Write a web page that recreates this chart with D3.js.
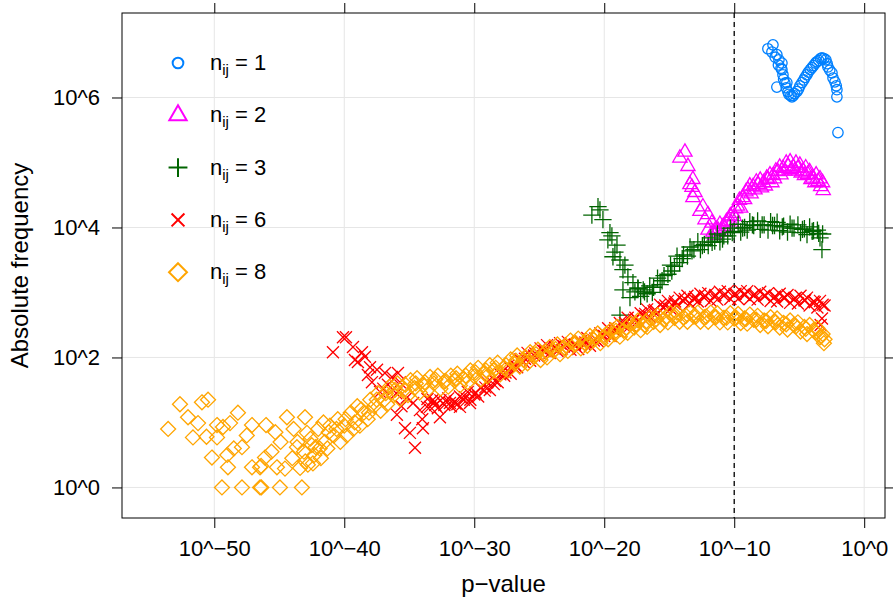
<!DOCTYPE html>
<html>
<head>
<meta charset="utf-8">
<script src="https://cdn.jsdelivr.net/npm/d3@7"></script>
<style>
  body { margin: 0; background: #fff; }
  svg text { font-family: "Liberation Sans", Arial, Helvetica, sans-serif; fill: #000; }
</style>
</head>
<body>
<svg id="chart" width="893" height="607"></svg>
<script>
// values are [log10(p-value), log10(absolute frequency)]
var xTicks = [-50, -40, -30, -20, -10, 0];
var yTicks = [0, 2, 4, 6];
var cutoff = -10;
var groupLabels = ["1", "2", "3", "6", "8"];
var groupColors = ["#0080ff", "#ff00ff", "#006400", "#ff0000", "#ffa500"];

var n1 = [
  [-7.41,6.75],[-7.02,6.81],[-7.10,6.70],[-6.85,6.62],[-6.72,6.66],[-6.56,6.58],[-6.60,6.50],[-6.33,6.53],
  [-6.40,6.45],[-6.33,6.43],[-6.25,6.35],[-6.20,6.28],[-6.72,6.16],[-6.10,6.22],[-5.95,6.23],[-6.00,6.15],
  [-5.87,6.09],[-5.80,6.05],[-5.65,6.03],[-5.56,6.01],[-5.45,6.03],[-5.35,6.06],[-5.18,6.09],[-5.05,6.13],
  [-4.95,6.18],[-4.79,6.23],[-4.65,6.27],[-4.55,6.31],[-4.41,6.35],[-4.30,6.39],[-4.15,6.43],[-4.02,6.46],
  [-3.90,6.49],[-3.75,6.53],[-3.64,6.55],[-3.50,6.57],[-3.35,6.60],[-3.25,6.61],[-3.10,6.60],[-2.95,6.58],
  [-2.85,6.52],[-2.79,6.47],[-2.65,6.42],[-2.48,6.38],[-2.40,6.30],[-2.25,6.24],[-2.15,6.18],[-2.10,6.12],
  [-2.10,6.01],[-2.02,5.46]
];

var n2 = [
  [-13.79,5.16],[-14.18,5.07],[-13.56,4.94],[-13.18,4.74],[-13.41,4.66],[-13.25,4.62],[-13.02,4.54],[-13.18,4.46],
  [-12.41,4.32],[-12.64,4.25],[-12.02,4.20],[-12.25,4.12],[-11.72,4.07],[-12.02,3.96],[-11.64,3.93],
  [-11.5,3.88],[-11.4,3.98],[-11.1,4.05],[-11.0,3.94],[-10.7,3.99],[-10.6,4.09],[-10.3,4.18],[-10.2,4.07],
  [-10.0,4.17],[-9.9,4.29],[-9.6,4.42],[-9.5,4.30],[-9.2,4.43],[-9.1,4.55],[-8.8,4.64],[-8.7,4.52],
  [-8.4,4.58],[-8.3,4.70],[-8.0,4.73],[-7.9,4.61],[-7.6,4.64],[-7.5,4.76],[-7.25,4.81],[-7.1,4.69],
  [-6.9,4.75],[-6.8,4.87],[-6.5,4.93],[-6.4,4.81],[-6.1,4.87],[-6.0,4.99],[-5.7,5.01],[-5.6,4.89],
  [-5.35,4.87],[-5.25,4.99],[-4.95,4.96],[-4.85,4.84],[-4.6,4.80],[-4.5,4.92],[-4.2,4.86],[-4.1,4.74],
  [-3.8,4.69],[-3.7,4.81],[-3.4,4.75],[-3.35,4.63],[-3.2,4.69],[-3.15,4.57]
];
var n2Mid = [
  [-11.25,3.96],[-10.85,4.02],[-10.45,4.10],[-10.1,4.22],[-9.75,4.33],[-9.35,4.46],[-8.95,4.58],[-8.55,4.63],
  [-8.15,4.66],[-7.75,4.69],[-7.4,4.74],[-7.0,4.80],[-6.65,4.86],[-6.25,4.91],[-5.85,4.94],[-5.45,4.93],
  [-5.1,4.91],[-4.7,4.87],[-4.35,4.82],[-3.95,4.76],[-3.55,4.71]
];

var n3 = [
  [-20.48,4.32],[-20.95,4.19],[-20.10,4.12],[-20.33,4.27],[-19.56,3.92],[-19.72,3.81],[-19.41,3.87],[-19.02,3.73],
  [-19.33,3.55],[-18.79,3.50],[-19.18,3.62],[-18.56,3.35],[-18.18,3.24],[-18.41,3.42],[-17.79,3.15],[-18.56,3.04],
  [-17.41,3.07],[-18.02,2.92],[-18.79,2.65],[-17.64,3.01],
  [-17.4,3.06],[-17.2,2.94],[-16.9,3.01],[-16.7,2.98],[-16.5,3.10],[-16.2,3.08],[-15.9,3.22],[-15.7,3.12],
  [-15.4,3.26],[-15.1,3.28],[-14.9,3.42],[-14.6,3.40],[-14.4,3.56],[-14.2,3.46],[-13.9,3.58],[-13.6,3.56],
  [-13.4,3.70],[-13.1,3.66],[-12.8,3.78],[-12.6,3.66],[-12.3,3.74],[-12.0,3.72],[-11.8,3.84],[-11.5,3.79],
  [-11.3,3.90],[-11.1,3.78],[-10.8,3.87],[-10.5,3.87],[-10.3,3.99],[-10.0,3.94],[-9.7,4.05],[-9.5,3.93],
  [-9.2,4.00],[-9.0,3.96],[-8.8,4.09],[-8.5,4.03],[-8.2,4.10],[-8.0,3.97],[-7.7,4.04],[-7.4,3.96],
  [-7.2,4.09],[-6.9,4.03],[-6.7,4.08],[-6.5,3.95],[-6.2,4.02],[-5.9,3.93],[-5.7,4.05],[-5.4,3.99],
  [-5.1,4.04],[-4.9,3.92],[-4.6,3.98],[-4.4,3.89],[-4.2,4.01],[-3.9,3.95],[-3.6,3.96],[-3.4,3.84],
  [-3.2,3.90],[-3.25,3.66]
];
var n3Mid = [
  [-17.0,3.04],[-16.3,3.00],[-15.55,3.18],[-14.8,3.33],[-14.0,3.52],[-13.25,3.64],[-12.45,3.72],[-11.7,3.77],
  [-10.9,3.82],[-10.15,3.92],[-9.35,3.99],[-8.6,4.04],[-7.85,4.04],[-7.05,4.03],[-6.3,4.01],[-5.55,3.99],
  [-4.75,3.97],[-4.0,3.94],[-3.5,3.91]
];

var n6 = [
  [-40.87,2.08],[-39.87,2.31],[-39.33,2.16],[-38.64,2.08],[-38.41,2.01],[-38.95,1.93],[-38.02,1.85],[-37.48,1.81],
  [-36.87,1.76],[-36.33,1.70],[-35.87,1.76],[-35.72,1.62],[-37.87,1.62],[-35.33,0.91],[-34.56,0.61],[-33.95,0.91],
  [-34.95,0.84],[-35.95,1.12],[-34.18,1.19],[-33.64,1.24],[-32.64,1.08],[-33.18,1.35],[-31.87,1.30],[-31.10,1.24],
  [-30.33,1.30],[-37.25,1.47],[-36.64,1.58],[-38.18,1.73],[-39.18,1.96],[-40.10,2.31],[-37.0,1.52],[-36.0,1.45],
  [-35.2,1.38],[-34.7,1.30],[-34.0,1.05],[-35.6,1.25],
  [-33.6,1.36],[-33.4,1.24],[-33.1,1.31],[-32.8,1.22],[-32.6,1.34],[-32.3,1.27],[-32.0,1.37],[-31.8,1.25],
  [-31.5,1.32],[-31.3,1.28],[-31.1,1.40],[-30.8,1.35],[-30.5,1.47],[-30.3,1.35],[-30.0,1.43],[-29.7,1.40],
  [-29.5,1.53],[-29.2,1.49],[-29.0,1.62],[-28.8,1.50],[-28.5,1.59],[-28.2,1.62],[-28.0,1.74],[-27.7,1.72],
  [-27.4,1.87],[-27.2,1.75],[-26.9,1.84],[-26.7,1.85],[-26.5,1.97],[-26.2,1.93],[-25.9,2.07],[-25.7,1.95],
  [-25.4,2.03],[-25.1,2.02],[-24.9,2.14],[-24.6,2.10],[-24.4,2.19],[-24.2,2.07],[-23.9,2.14],[-23.6,2.10],
  [-23.4,2.22],[-23.1,2.17],[-22.8,2.24],[-22.6,2.12],[-22.3,2.19],[-22.0,2.13],[-21.8,2.25],[-21.5,2.20],
  [-21.3,2.30],[-21.1,2.18],[-20.8,2.26],[-20.5,2.25],[-20.3,2.37],[-20.0,2.33],[-19.7,2.45],[-19.5,2.33],
  [-19.2,2.41],[-19.0,2.41],[-18.8,2.53],[-18.5,2.49],[-18.2,2.61],[-18.0,2.49],[-17.7,2.58],[-17.4,2.56],
  [-17.2,2.68],[-16.9,2.64],[-16.7,2.74],[-16.5,2.62],[-16.2,2.71],[-15.9,2.69],[-15.7,2.81],[-15.4,2.77],
  [-15.1,2.87],[-14.9,2.75],[-14.6,2.83],[-14.4,2.80],[-14.2,2.92],[-13.9,2.87],[-13.6,2.95],[-13.4,2.83],
  [-13.1,2.90],[-12.8,2.86],[-12.6,2.98],[-12.3,2.92],[-12.0,2.99],[-11.8,2.87],[-11.5,2.94],[-11.3,2.89],
  [-11.1,3.01],[-10.8,2.95],[-10.5,3.02],[-10.3,2.90],[-10.0,2.97],[-9.7,2.90],[-9.5,3.02],[-9.2,2.96],
  [-9.0,3.02],[-8.8,2.90],[-8.5,2.96],[-8.2,2.89],[-8.0,3.01],[-7.7,2.95],[-7.4,2.99],[-7.2,2.87],
  [-6.9,2.93],[-6.7,2.86],[-6.5,2.98],[-6.2,2.92],[-5.9,2.96],[-5.7,2.84],[-5.4,2.90],[-5.1,2.83],
  [-4.9,2.95],[-4.6,2.88],[-4.4,2.92],[-4.2,2.80],[-3.9,2.86],[-3.6,2.77],[-3.4,2.87],[-3.2,2.81],
  [-3.25,2.60],[-3.35,2.50]
];
var n6Mid = [
  [-33.0,1.27],[-32.2,1.33],[-31.45,1.29],[-30.7,1.39],[-29.9,1.46],[-29.15,1.54],[-28.4,1.64],[-27.6,1.77],
  [-26.85,1.88],[-26.1,1.98],[-25.3,2.06],[-24.55,2.12],[-23.8,2.16],[-23.0,2.19],[-22.25,2.20],[-21.45,2.23],
  [-20.7,2.29],[-19.95,2.37],[-19.15,2.45],[-18.4,2.53],[-17.6,2.61],[-16.85,2.67],[-16.1,2.73],[-15.3,2.80],
  [-14.55,2.86],[-13.8,2.90],[-13.0,2.93],[-12.25,2.95],[-11.45,2.96],[-10.7,2.97],[-9.9,2.98],[-9.15,2.97],
  [-8.4,2.97],[-7.6,2.95],[-6.85,2.94],[-6.1,2.92],[-5.3,2.91],[-4.55,2.88],[-3.8,2.85],[-3.05,2.80]
];

var n8 = [
  [-53.55,0.90],[-52.64,1.28],[-52.02,1.08],[-51.25,0.99],[-51.64,0.77],[-50.95,1.31],[-50.48,1.35],[-49.79,0.96],
  [-50.18,0.46],[-49.79,0.77],[-48.95,0.31],[-49.33,0.93],[-48.18,1.15],[-48.79,0.99],[-49.41,0.00],[-47.87,0.00],
  [-46.48,0.00],[-46.38,0.00],[-44.95,0.00],[-43.26,0.00],[-47.10,0.96],[-46.02,0.96],[-47.87,0.62],[-47.10,0.31],
  [-46.10,0.46],[-45.18,0.31],[-44.41,1.08],[-43.02,1.08],[-44.56,0.29],[-43.64,0.62],[-42.87,0.84],[-42.41,0.37],
  [-46.48,0.31],[-46.40,0.33],[-45.6,0.55],[-44.9,0.70],[-44.0,0.45],[-45.3,0.85],[-43.9,0.90],[-42.2,0.62],
  [-41.6,1.00],[-48.5,0.60],[-47.5,0.80],[-50.6,0.78],[-49.0,0.50],
  [-43.6,0.70],[-43.4,0.30],[-43.1,0.55],[-42.8,0.35],[-42.6,0.75],[-42.3,0.50],[-42.0,0.90],[-41.8,0.45],
  [-41.5,0.70],[-41.3,0.60],[-41.1,0.95],[-40.8,0.80],[-40.5,1.05],[-40.3,0.70],[-40.0,0.95],[-39.8,0.80],
  [-39.5,1.15],[-39.2,1.00],[-39.0,1.25],[-38.8,0.95],[-38.5,1.15],[-38.2,1.05],[-38.0,1.35],[-37.7,1.25],
  [-37.4,1.45],[-37.2,1.18],[-36.9,1.35],[-36.7,1.28],[-36.5,1.55],[-36.2,1.42],[-35.9,1.60],[-35.7,1.36],
  [-35.4,1.50],[-35.1,1.42],[-34.9,1.65],[-34.6,1.53],[-34.4,1.68],[-34.2,1.46],[-33.9,1.58],[-33.6,1.50],
  [-33.4,1.70],[-33.1,1.60],[-32.8,1.72],[-32.6,1.52],[-32.3,1.63],[-32.0,1.55],[-31.8,1.72],[-31.5,1.64],
  [-31.3,1.75],[-31.1,1.57],[-30.8,1.67],[-30.5,1.62],[-30.3,1.80],[-30.0,1.71],[-29.7,1.84],[-29.5,1.66],
  [-29.2,1.76],[-29.0,1.71],[-28.8,1.88],[-28.5,1.80],[-28.2,1.92],[-28.0,1.74],[-27.7,1.84],[-27.4,1.80],
  [-27.2,1.97],[-26.9,1.90],[-26.7,2.03],[-26.5,1.86],[-26.2,1.96],[-25.9,1.91],[-25.7,2.08],[-25.4,2.01],
  [-25.1,2.12],[-24.9,1.96],[-24.6,2.06],[-24.4,2.00],[-24.2,2.16],[-23.9,2.10],[-23.6,2.20],[-23.4,2.05],
  [-23.1,2.15],[-22.8,2.10],[-22.6,2.26],[-22.3,2.20],[-22.0,2.29],[-21.8,2.14],[-21.5,2.23],[-21.3,2.18],
  [-21.1,2.33],[-20.8,2.27],[-20.5,2.37],[-20.3,2.22],[-20.0,2.31],[-19.7,2.28],[-19.5,2.42],[-19.2,2.36],
  [-19.0,2.47],[-18.8,2.32],[-18.5,2.41],[-18.2,2.38],[-18.0,2.52],[-17.7,2.46],[-17.4,2.57],[-17.2,2.42],
  [-16.9,2.50],[-16.7,2.47],[-16.5,2.61],[-16.2,2.55],[-15.9,2.65],[-15.7,2.50],[-15.4,2.58],[-15.1,2.54],
  [-14.9,2.68],[-14.6,2.61],[-14.4,2.69],[-14.2,2.55],[-13.9,2.62],[-13.6,2.55],[-13.4,2.69],[-13.1,2.63],
  [-12.8,2.69],[-12.6,2.55],[-12.3,2.62],[-12.0,2.55],[-11.8,2.69],[-11.5,2.62],[-11.3,2.68],[-11.1,2.54],
  [-10.8,2.61],[-10.5,2.54],[-10.3,2.68],[-10.0,2.60],[-9.7,2.67],[-9.5,2.53],[-9.2,2.60],[-9.0,2.52],
  [-8.8,2.66],[-8.5,2.58],[-8.2,2.64],[-8.0,2.50],[-7.7,2.57],[-7.4,2.48],[-7.2,2.62],[-6.9,2.55],
  [-6.7,2.60],[-6.5,2.46],[-6.2,2.53],[-5.9,2.43],[-5.7,2.57],[-5.4,2.50],[-5.1,2.54],[-4.9,2.40],
  [-4.6,2.47],[-4.4,2.36],[-4.2,2.50],[-3.9,2.42],[-3.6,2.45],[-3.4,2.31],[-3.2,2.36],[-3.05,2.28],
  [-3.1,2.22]
];
var n8Mid = [
  [-43.0,0.40],[-42.5,0.65],[-41.9,0.60],[-41.2,0.85],[-40.6,0.90],[-39.9,1.05],[-39.3,0.90],[-38.7,1.20],
  [-38.1,1.15],[-37.5,1.35],[-36.8,1.45],
  [-36.1,1.50],[-35.3,1.58],[-34.5,1.60],[-33.8,1.62],[-33.0,1.66],[-32.2,1.64],[-31.4,1.68],[-30.65,1.72],
  [-29.9,1.77],[-29.1,1.80],[-28.35,1.84],[-27.55,1.88],[-26.8,1.95],[-26.05,2.00],[-25.25,2.05],[-24.5,2.09],
  [-23.75,2.13],[-22.95,2.18],[-22.2,2.22],[-21.4,2.26],[-20.65,2.31],[-19.85,2.36],[-19.1,2.41],[-18.3,2.46],
  [-17.55,2.51],[-16.8,2.55],[-16.0,2.59],[-15.25,2.62],[-14.5,2.64],[-13.7,2.64],[-12.95,2.63],[-12.15,2.63],
  [-11.4,2.62],[-10.6,2.61],[-9.85,2.61],[-9.1,2.59],[-8.3,2.58],[-7.55,2.56],[-6.8,2.54],[-6.0,2.51],
  [-5.25,2.48],[-4.5,2.44],[-3.75,2.39],[-3.3,2.33]
];

var groups = [n1, n2.concat(n2Mid), n3.concat(n3Mid), n6.concat(n6Mid), n8.concat(n8Mid)];

var svg = d3.select("#chart");
// plot frame in pixels
var padL = 122, padR = 885, padT = 13, padB = 518;

var x = d3.scaleLinear().domain([-57.1, 1.6]).range([padL, padR]);
var y = d3.scaleLinear().domain([-0.47, 7.30]).range([padB, padT]);

// open symbols like R's pch 1, 2, 3, 4, 5 (legend keys drawn a bit bigger)
var symTypes = [d3.symbolCircle, d3.symbolTriangle2, d3.symbolPlus, d3.symbolTimes, d3.symbolDiamond2];
var plotSizes = [85, 145, 100, 96, 143];
var keySizes = [90, 215, 118, 110, 206];

var fmt = function (d) { return "10^" + String(d).replace("-", "\u2212"); };

// grid
svg.append("g").selectAll("line").data(xTicks).enter().append("line")
  .attr("x1", d => x(d)).attr("x2", d => x(d)).attr("y1", padT).attr("y2", padB)
  .attr("stroke", "#e6e6e6").attr("stroke-width", 1);
svg.append("g").selectAll("line").data(yTicks).enter().append("line")
  .attr("x1", padL).attr("x2", padR).attr("y1", d => y(d)).attr("y2", d => y(d))
  .attr("stroke", "#e6e6e6").attr("stroke-width", 1);

// dashed reference line at 10^-10
svg.append("line")
  .attr("x1", x(cutoff)).attr("x2", x(cutoff)).attr("y1", padT).attr("y2", padB)
  .attr("stroke", "#000").attr("stroke-width", 1.3).attr("stroke-dasharray", "5,4");

// points, in group order so n=8 ends up on top
var plot = svg.append("g");
groups.forEach(function (g, i) {
  var sym = d3.symbol().type(symTypes[i]).size(plotSizes[i]);
  plot.append("g").selectAll("path").data(g).enter().append("path")
    .attr("transform", d => "translate(" + x(d[0]) + "," + y(d[1]) + ")")
    .attr("d", sym)
    .attr("fill", "none")
    .attr("stroke", groupColors[i])
    .attr("stroke-width", 1.3);
});

// axes, ticks point outward on all four sides
function styleAxis(g) {
  g.select(".domain").remove();
  g.selectAll("line").attr("stroke", "#000");
  g.selectAll("text").style("font-size", "22px").attr("fill", "#000");
}
svg.append("g").attr("transform", "translate(0," + padB + ")")
  .call(d3.axisBottom(x).tickValues(xTicks).tickFormat(fmt).tickSize(10).tickPadding(12))
  .call(styleAxis);
svg.append("g").attr("transform", "translate(0," + padT + ")")
  .call(d3.axisTop(x).tickValues(xTicks).tickFormat("").tickSize(10))
  .call(styleAxis);
svg.append("g").attr("transform", "translate(" + padL + ",0)")
  .call(d3.axisLeft(y).tickValues(yTicks).tickFormat(fmt).tickSize(10).tickPadding(12))
  .call(styleAxis);
svg.append("g").attr("transform", "translate(" + padR + ",0)")
  .call(d3.axisRight(y).tickValues(yTicks).tickFormat("").tickSize(10))
  .call(styleAxis);

svg.append("rect")
  .attr("x", padL).attr("y", padT).attr("width", padR - padL).attr("height", padB - padT)
  .attr("fill", "none").attr("stroke", "#000").attr("stroke-width", 1);

// axis titles
svg.append("text").attr("x", (padL + padR) / 2).attr("y", 592)
  .attr("text-anchor", "middle").style("font-size", "24px").text("p\u2212value");
svg.append("text").attr("transform", "translate(28," + ((padT + padB) / 2) + ") rotate(-90)")
  .attr("text-anchor", "middle").style("font-size", "24px").text("Absolute frequency");

// legend
var legend = svg.append("g");
groupLabels.forEach(function (lab, i) {
  var ly = 63 + i * 52.3;
  legend.append("path")
    .attr("transform", "translate(178," + ly + ")")
    .attr("d", d3.symbol().type(symTypes[i]).size(keySizes[i]))
    .attr("fill", "none").attr("stroke", groupColors[i]).attr("stroke-width", 2);
  var t = legend.append("text").attr("x", 210).attr("y", ly + 7).style("font-size", "22px");
  t.append("tspan").text("n");
  t.append("tspan").attr("dy", 5).style("font-size", "15px").text("ij");
  t.append("tspan").attr("dy", -5).text(" = " + lab);
});
</script>
</body>
</html>
